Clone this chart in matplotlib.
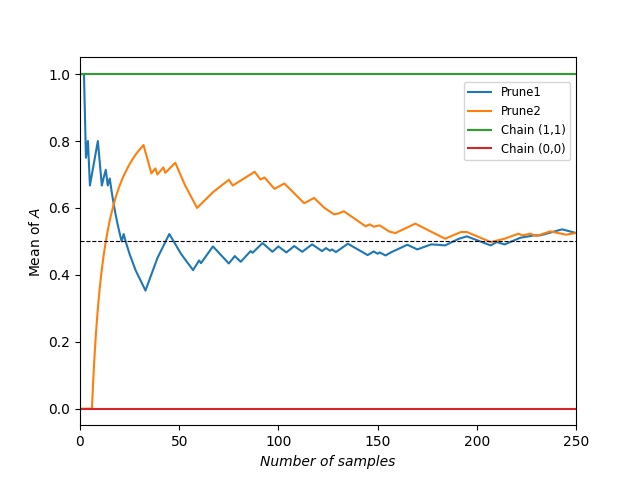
import matplotlib
matplotlib.use("Agg")
import matplotlib.pyplot as plt

# Prune1 (running mean) vertices
prune1_x = [1, 2, 3, 4, 5, 9, 11, 12, 13, 14, 15, 16, 17, 18, 19, 20, 21, 22, 23,
            25, 28, 33, 39, 45, 51, 57, 58, 59, 60, 61, 67, 75, 78, 81, 86, 87, 92,
            97, 100, 104, 108, 112, 117, 122, 124, 126, 127, 129, 135, 145, 148,
            150, 151, 154, 157, 165, 170, 177, 180, 184, 191, 195, 207, 210, 214,
            222, 229, 232, 243, 250]
prune1_y = [1.0, 1.0, 0.75, 0.80, 0.667, 0.80, 0.667, 0.692, 0.714, 0.667, 0.688,
            0.647, 0.611, 0.579, 0.55, 0.524, 0.50, 0.522, 0.50,
            0.462, 0.414, 0.353, 0.45, 0.522, 0.462, 0.414, 0.424, 0.433, 0.443,
            0.435, 0.485, 0.434, 0.456, 0.439, 0.471, 0.466, 0.495,
            0.469, 0.485, 0.467, 0.486, 0.469, 0.491, 0.471, 0.48, 0.472, 0.476,
            0.468, 0.493, 0.459, 0.47,
            0.463, 0.467, 0.458, 0.468, 0.49, 0.476, 0.491, 0.49, 0.488, 0.508,
            0.515, 0.488, 0.498, 0.491,
            0.511, 0.518, 0.518, 0.536, 0.525]

# Prune2 (running mean) vertices
prune2_x = [0, 6, 7, 8, 9, 10, 11, 12, 13, 14, 15, 16, 17, 18, 19, 20, 21, 22, 23,
            24, 25, 26, 27, 28, 29, 30, 31, 32, 36, 37, 38, 39, 40, 41, 42, 43, 48,
            53, 59, 67, 75, 77, 88, 91, 93, 98, 103, 113, 118, 123, 128, 130, 133,
            144, 146, 148, 151, 156, 159, 169, 184, 192, 195, 207, 214, 221, 223,
            227, 230, 237, 245, 250]
prune2_y = [0.0, 0.0, 0.125, 0.222, 0.30, 0.364, 0.417, 0.462, 0.50, 0.533, 0.563,
            0.588, 0.611, 0.632, 0.65, 0.667, 0.682, 0.696, 0.708,
            0.72, 0.731, 0.741, 0.75, 0.759, 0.767, 0.774, 0.781, 0.788, 0.703,
            0.711, 0.718, 0.70, 0.707, 0.714, 0.721, 0.705, 0.735,
            0.667, 0.60, 0.647, 0.684, 0.667, 0.708, 0.685, 0.691, 0.657, 0.673,
            0.614, 0.63, 0.601, 0.581, 0.583, 0.59,
            0.545, 0.551, 0.544, 0.548, 0.529, 0.525, 0.553, 0.508, 0.528, 0.528,
            0.498, 0.508, 0.523, 0.518, 0.523, 0.516, 0.53, 0.52, 0.525]

x_max = 250
chain11_y = [1.0, 1.0]
chain00_y = [0.0, 0.0]
chain_x = [0, x_max]
reference_level = 0.5

fig, ax = plt.subplots(figsize=(6.4, 4.78), dpi=100)
ax.plot(prune1_x, prune1_y, color="#1f77b4", label="Prune1")
ax.plot(prune2_x, prune2_y, color="#ff7f0e", label="Prune2")
ax.plot(chain_x, chain11_y, color="#2ca02c", label="Chain (1,1)")
ax.plot(chain_x, chain00_y, color="#d62728", label="Chain (0,0)")
ax.axhline(reference_level, color="black", linestyle="--", linewidth=0.8)

ax.set_xlim(0, x_max)
ax.set_ylim(-0.05, 1.05)
ax.set_xlabel("Number of samples", fontstyle="italic")
ax.set_ylabel("Mean of $A$")
ax.legend(loc="upper right", bbox_to_anchor=(1.0, 0.95), fontsize="small")

fig.savefig("out.png", dpi=100)
